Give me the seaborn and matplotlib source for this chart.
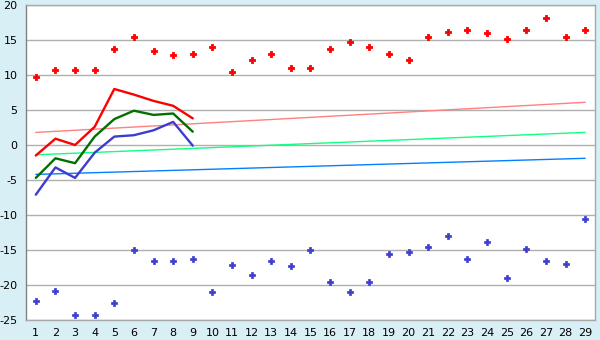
import matplotlib
matplotlib.use("Agg")
import matplotlib.pyplot as plt
import seaborn as sns
import pandas as pd

days = list(range(1, 30))
red_points = [9.7, 10.7, 10.7, 10.7, 13.7, 15.4, 13.4, 12.8, 13.0,
              14.0, 10.4, 12.1, 13.0, 11.0, 11.0, 13.7, 14.7, 14.0, 13.0,
              12.2, 15.5, 16.1, 16.4, 16.0, 15.2, 16.5, 18.2, 15.5, 16.5]
blue_points = [-22.3, -20.8, -24.3, -24.3, -22.6, -15.0, -16.6, -16.6, -16.3,
               -21.0, -17.2, -18.6, -16.5, -17.3, -15.0, -19.5, -21.0, -19.5, -15.5,
               -15.3, -14.6, -13.0, -16.3, -13.8, -19.0, -14.8, -16.5, -17.0, -10.6]

line_days = [1, 2, 3, 4, 5, 6, 7, 8, 9]
red_line = [-1.5, 0.9, 0.0, 2.6, 8.0, 7.2, 6.3, 5.6, 3.8]
green_line = [-4.7, -1.9, -2.6, 1.2, 3.7, 4.9, 4.3, 4.5, 1.9]
blue_line = [-7.1, -3.2, -4.7, -1.1, 1.2, 1.4, 2.1, 3.3, -0.1]

trend_days = [1, 29]
trend_red = [1.8, 6.1]
trend_green = [-1.4, 1.8]
trend_blue = [-4.2, -1.9]

y_ticks = [-25, -20, -15, -10, -5, 0, 5, 10, 15, 20]

sns.set_style("white")
plt.rcParams['font.family'] = ['DejaVu Sans']

fig = plt.figure(figsize=(6, 3.4), dpi=100, facecolor="#d9eff6")
ax = fig.add_axes([26/600, 1-320/340, (595-26)/600, (320-5)/340])
ax.set_facecolor("white")

for yv in y_ticks:
    ax.axhline(yv, color="#b0b0b0", lw=1.0, zorder=0)

sns.lineplot(x=trend_days, y=trend_red, ax=ax, color="#ff8080", lw=1.0)
sns.lineplot(x=trend_days, y=trend_green, ax=ax, color="#10ff80", lw=1.0)
sns.lineplot(x=trend_days, y=trend_blue, ax=ax, color="#0080ff", lw=1.0)

sns.lineplot(x=line_days, y=red_line, ax=ax, color="#ff0000", lw=1.7)
sns.lineplot(x=line_days, y=green_line, ax=ax, color="#007000", lw=1.7)
sns.lineplot(x=line_days, y=blue_line, ax=ax, color="#3c3cd0", lw=1.7)

sns.scatterplot(x=days, y=red_points, ax=ax, color="#ff0000", marker="P", s=22,
                linewidth=0.6, edgecolor="#ff0000", zorder=5)
sns.scatterplot(x=days, y=blue_points, ax=ax, color="#3c3cd0", marker="P", s=16,
                linewidth=0.5, edgecolor="#3c3cd0", zorder=5)

ax.set_xlim(0.5, 29.5)
ax.set_ylim(-25, 20)
ax.set_xticks(days)
ax.set_xticklabels([str(d) for d in days])
ax.set_yticks(y_ticks)
ax.set_yticklabels([str(v) for v in y_ticks])
ax.tick_params(axis="both", labelsize=8, colors="black", length=4, width=1, direction="out", pad=2)
ax.tick_params(axis="x", color="black")
ax.tick_params(axis="y", color="#808080")
for s in ax.spines.values():
    s.set_color("#a8a8a8")
    s.set_linewidth(1.0)
ax.spines["left"].set_color("#808080")
ax.set_xlabel("")
ax.set_ylabel("")

fig.savefig("out.png", dpi=100, facecolor=fig.get_facecolor())
